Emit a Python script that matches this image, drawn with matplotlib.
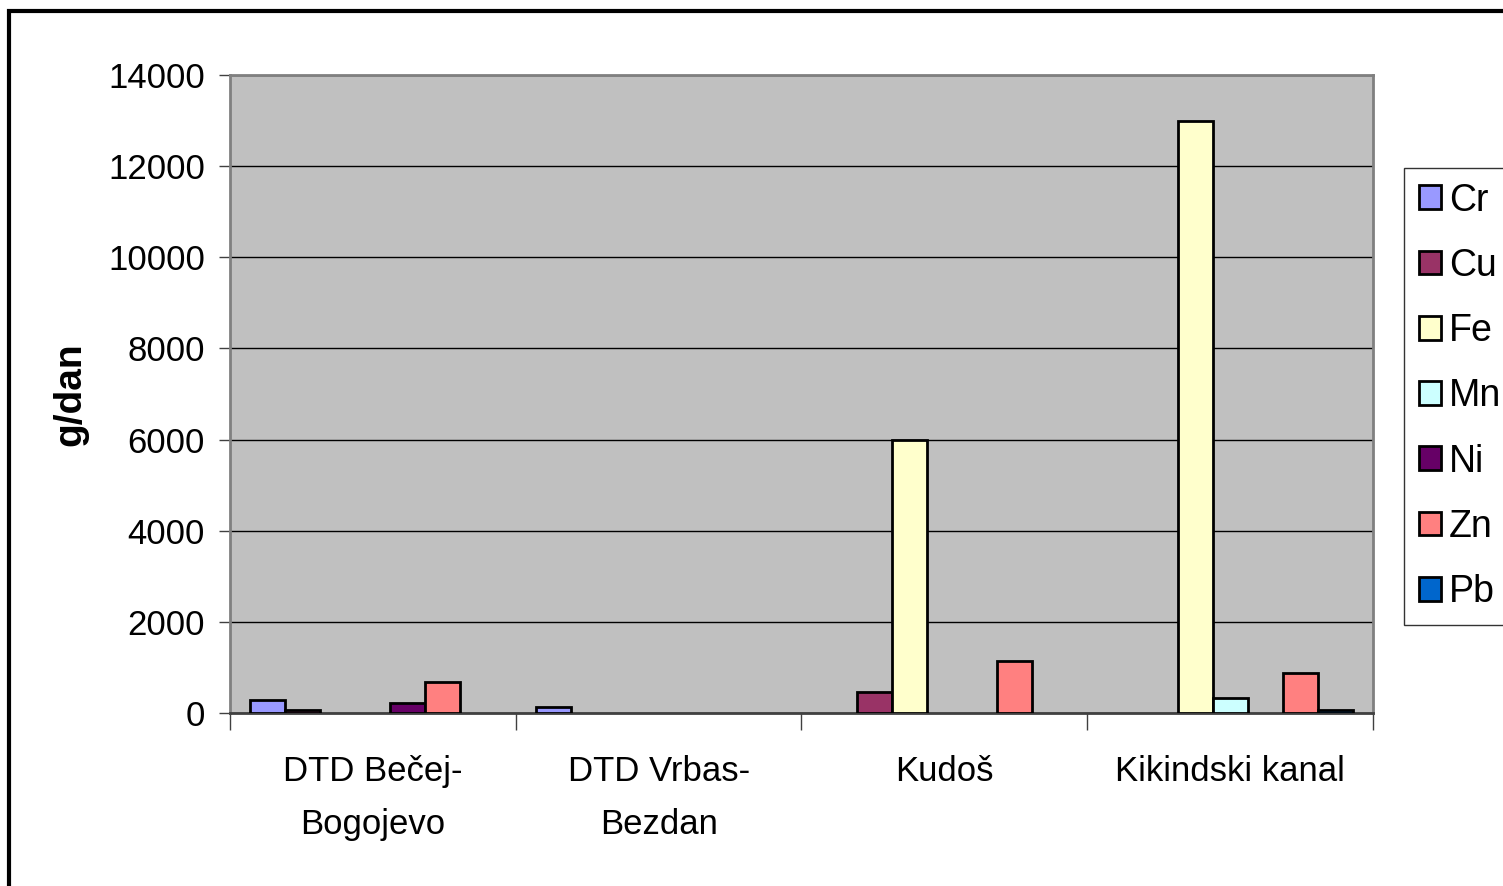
import numpy as np
import matplotlib.pyplot as plt
from matplotlib.patches import Rectangle

plt.rcParams['font.family'] = ['Liberation Sans', 'DejaVu Sans']

# data
categories = ['DTD Bečej-\nBogojevo', 'DTD Vrbas-\nBezdan', 'Kudoš', 'Kikindski kanal']
metals = ['Cr', 'Cu', 'Fe', 'Mn', 'Ni', 'Zn', 'Pb']
cr = [280, 140, 0, 0]
cu = [70, 0, 470, 0]
fe = [0, 0, 6000, 13000]
mn = [0, 0, 0, 335]
ni = [210, 0, 0, 0]
zn = [670, 0, 1150, 885]
pb = [0, 0, 0, 70]
yticks = [0, 2000, 4000, 6000, 8000, 10000, 12000, 14000]

colors = ['#9999FF', '#993366', '#FFFFCC', '#CCFFFF', '#660066', '#FF8080', '#0066CC']
series = [cr, cu, fe, mn, ni, zn, pb]

fig = plt.figure(figsize=(15.03, 8.86), dpi=100)
# outer chart frame
fig.patches.append(Rectangle((0.006, -0.01), 1.1, 0.998, transform=fig.transFigure,
                             fill=False, edgecolor='black', linewidth=3))

ax = fig.add_axes([0.153, 0.1953, 0.7605, 0.72])
ax.set_facecolor('#C0C0C0')

x = np.arange(len(categories))
n = len(series)
bw = 0.858 / n
for i, (vals, c, name) in enumerate(zip(series, colors, metals)):
    pos = x - 0.429 + bw * (i + 0.5)
    v = np.array(vals, dtype=float)
    mask = v > 0
    ax.bar(pos[mask], v[mask], width=bw, color=c, edgecolor='black', linewidth=2,
           label=name, zorder=3)

ax.set_xlim(-0.5, len(categories) - 0.5)
ax.set_ylim(0, 14000)
ax.set_yticks(yticks)
ax.set_yticklabels([str(t) for t in yticks], fontsize=25)
ax.yaxis.grid(True, color='black', linewidth=1, zorder=1)
ax.set_axisbelow(True)

ax.set_xticks(x)
ax.set_xticklabels(categories, fontsize=25, linespacing=1.8)
ax.tick_params(axis='x', length=0, pad=30)
ax.set_xticks(np.arange(-0.5, len(categories)), minor=True)
ax.tick_params(axis='x', which='minor', length=12, width=1, color='#404040')
ax.tick_params(axis='y', length=8, width=1, color='#404040', pad=10)

for s in ['top', 'right', 'left']:
    ax.spines[s].set_color('#808080')
    ax.spines[s].set_linewidth(2)
ax.spines['bottom'].set_color('#404040')
ax.spines['bottom'].set_linewidth(2)

ax.set_ylabel('g/dan', fontsize=28, fontweight='bold', labelpad=14)

handles, labels = ax.get_legend_handles_labels()
leg = ax.legend(handles, labels, loc='upper left', bbox_to_anchor=(1.027, 0.855),
                fontsize=27, frameon=True, fancybox=False, edgecolor='black',
                handlelength=0.6, handleheight=0.6, handletextpad=0.2,
                labelspacing=0.78, borderpad=0.4, borderaxespad=0)
leg.get_frame().set_linewidth(1)

fig.savefig('out.png', dpi=100)
